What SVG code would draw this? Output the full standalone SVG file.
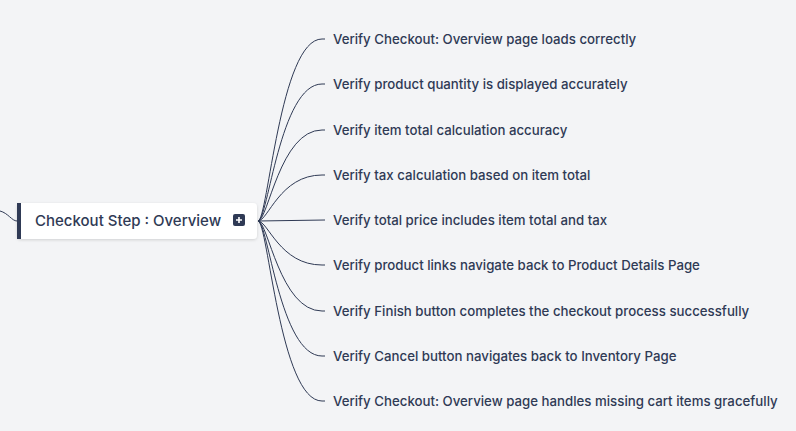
<svg xmlns="http://www.w3.org/2000/svg" width="796" height="431" viewBox="0 0 796 431">
<defs>
<style>
.lbl{font-family:Inter,"Noto Sans",sans-serif;font-size:13.25px;fill:#2f3a55;font-weight:500}
.root{font-family:Inter,"Noto Sans",sans-serif;font-size:15px;fill:#2f3a55;font-weight:500}
.con{fill:none;stroke:#2f3a55;stroke-width:1}
</style>
<filter id="sh" x="-10%" y="-30%" width="120%" height="170%">
<feDropShadow dx="0" dy="1" stdDeviation="1.5" flood-color="#000" flood-opacity="0.15"/>
</filter>
</defs>
<rect width="796" height="431" fill="#f3f4f6"/>
<g id="connectors">
<path class="con" d="M0 211 C8 213,12 221,17 221"/>
<path class="con" d="M258 221 C268 221,280 39,322 39 L325 39"/>
<path class="con" d="M258 221 C268 221,280 84,322 84 L325 84"/>
<path class="con" d="M258 221 C268 221,280 130,322 130 L325 130"/>
<path class="con" d="M258 221 C268 221,280 175,322 175 L325 175"/>
<path class="con" d="M258 221 L325 220"/>
<path class="con" d="M258 221 C268 221,280 265,322 265 L325 265"/>
<path class="con" d="M258 221 C268 221,280 311,322 311 L325 311"/>
<path class="con" d="M258 221 C268 221,280 356,322 356 L325 356"/>
<path class="con" d="M258 221 C268 221,280 401,322 401 L325 401"/>
</g>
<g id="root">
<rect x="17" y="203" width="240" height="36" rx="4" fill="#fff" filter="url(#sh)"/>
<path d="M21 203 L17 203 L17 239 L21 239 Z" fill="#2f3a55"/>
<text class="root" x="35" y="226">Checkout Step : Overview</text>
<rect x="233" y="214" width="12" height="12" rx="2" fill="#2f3a55"/>
<path d="M239 217 V223 M236 220 H242" stroke="#fff" stroke-width="1.6"/>
</g>
<g id="n1"><text class="lbl" x="333" y="44">Verify Checkout: Overview page loads correctly</text></g>
<g id="n2"><text class="lbl" x="333" y="89">Verify product quantity is displayed accurately</text></g>
<g id="n3"><text class="lbl" x="333" y="135">Verify item total calculation accuracy</text></g>
<g id="n4"><text class="lbl" x="333" y="180">Verify tax calculation based on item total</text></g>
<g id="n5"><text class="lbl" x="333" y="225">Verify total price includes item total and tax</text></g>
<g id="n6"><text class="lbl" x="333" y="270">Verify product links navigate back to Product Details Page</text></g>
<g id="n7"><text class="lbl" x="333" y="316">Verify Finish button completes the checkout process successfully</text></g>
<g id="n8"><text class="lbl" x="333" y="361">Verify Cancel button navigates back to Inventory Page</text></g>
<g id="n9"><text class="lbl" x="333" y="406">Verify Checkout: Overview page handles missing cart items gracefully</text></g>
</svg>
